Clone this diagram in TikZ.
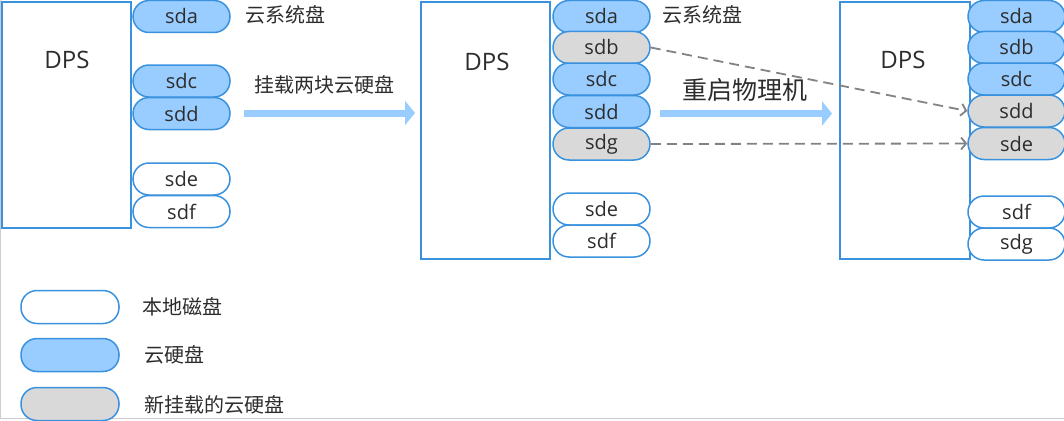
\documentclass[tikz,border=0pt]{standalone}
\usepackage{fontspec}
\setmainfont{Open Sans}
\newfontfamily\cjk{Noto Sans CJK SC}
\usetikzlibrary{arrows.meta}
\definecolor{diskedge}{RGB}{58,146,222}
\definecolor{cloudfill}{RGB}{153,204,255}
\definecolor{newfill}{RGB}{217,217,217}
\definecolor{txtgray}{RGB}{45,45,45}
\definecolor{framegray}{RGB}{205,205,205}
\definecolor{dashgray}{RGB}{130,130,130}

\begin{document}
\begin{tikzpicture}[x=1pt, y=-1pt,
      disk/.style={draw=diskedge, line width=1.5pt, rounded corners=16pt,
        minimum width=97pt, minimum height=32pt, inner sep=0pt,
        font=\fontsize{20}{24}\selectfont, text=txtgray},
      localdisk/.style={disk, fill=white},
      clouddisk/.style={disk, fill=cloudfill},
      newdisk/.style={disk, fill=newfill},
      hostbox/.style={draw=diskedge, line width=2pt, fill=white,
        anchor=north west, inner sep=0pt},
      hostlabel/.style={font=\fontsize{24}{28}\selectfont, text=txtgray},
      note/.style={font=\cjk\fontsize{20}{24}\selectfont, text=txtgray},
      bignote/.style={font=\cjk\fontsize{25}{28}\selectfont, text=txtgray},
      stepshift/.style={draw=cloudfill, line width=7pt,
        -{Triangle[length=10pt,width=24pt]}},
      remap/.style={draw=dashgray, line width=1.8pt, dash pattern=on 10pt off 6pt,
        -{Straight Barb[length=5pt,width=12pt]}}
    ]
    \useasboundingbox (0,0) rectangle (1064,420);
    \draw[framegray, line width=1pt] (0.5,0) -- (0.5,418.5) -- (1064,418.5);

    %-----------------------------
    % 1) Before mounting
    %-----------------------------
    \node[hostbox, minimum width=129pt, minimum height=226pt] (first-host) at (1,1) {};
    \node[hostlabel] (first-dps) at (67,60) {DPS};
    \foreach \name/\row/\kind in {sda/16.5/clouddisk, sdc/81/clouddisk, sdd/113.5/clouddisk,
                                  sde/179/localdisk, sdf/211.5/localdisk} {
      \node[\kind] (first-\name) at (181.5,\row) {\name};
    }
    \node[note, anchor=west] (first-sys) at (242,15) {云系统盘};

    % mount step
    \node[note] (mount-note) at (324,85) {挂载两块云硬盘};
    \coordinate (mount-from) at (244,113);
    \coordinate (mount-to) at (415,113);
    \draw[stepshift] (mount-from) -- (mount-to);

    %-----------------------------
    % 2) After mounting
    %-----------------------------
    \node[hostbox, minimum width=129pt, minimum height=257pt] (second-host) at (420,1) {};
    \node[hostlabel] (second-dps) at (487,62) {DPS};
    \foreach \name/\row/\kind in {sda/16.5/clouddisk, sdb/47.5/newdisk, sdc/79/clouddisk,
                                  sdd/111.5/clouddisk, sdg/144/newdisk,
                                  sde/209/localdisk, sdf/241/localdisk} {
      \node[\kind] (second-\name) at (601.5,\row) {\name};
    }
    \node[note, anchor=west] (second-sys) at (659,15) {云系统盘};

    % reboot step
    \node[bignote] (reboot-note) at (745,90) {重启物理机};
    \coordinate (reboot-from) at (660,113.5);
    \coordinate (reboot-to) at (832,113.5);
    \draw[stepshift] (reboot-from) -- (reboot-to);

    %-----------------------------
    % 3) After reboot
    %-----------------------------
    \node[hostbox, minimum width=130pt, minimum height=257pt] (third-host) at (839,1) {};
    \node[hostlabel] (third-dps) at (903,60) {DPS};
    \foreach \name/\row/\kind in {sda/16.5/clouddisk, sdb/47.5/clouddisk, sdc/79/clouddisk,
                                  sdd/111/newdisk, sde/143.5/newdisk,
                                  sdf/212/localdisk, sdg/244/localdisk} {
      \node[\kind] (third-\name) at (1016.5,\row) {\name};
    }

    % drive letters move
    \draw[remap] (second-sdb.east) -- (third-sdd.west);
    \draw[remap] (second-sdg.east) -- (third-sde.west);

    %-----------------------------
    % Legend
    %-----------------------------
    \node[localdisk, minimum width=98pt, minimum height=33pt] (key-local) at (70,307) {};
    \node[note, anchor=west] (key-local-text) at (139,307) {本地磁盘};
    \node[clouddisk, minimum width=98pt, minimum height=33pt] (key-cloud) at (70,355) {};
    \node[note, anchor=west] (key-cloud-text) at (141,355) {云硬盘};
    \node[newdisk, minimum width=98pt, minimum height=33pt] (key-new) at (70,404) {};
    \node[note, anchor=west] (key-new-text) at (141,405) {新挂载的云硬盘};

  \end{tikzpicture}
\end{document}
